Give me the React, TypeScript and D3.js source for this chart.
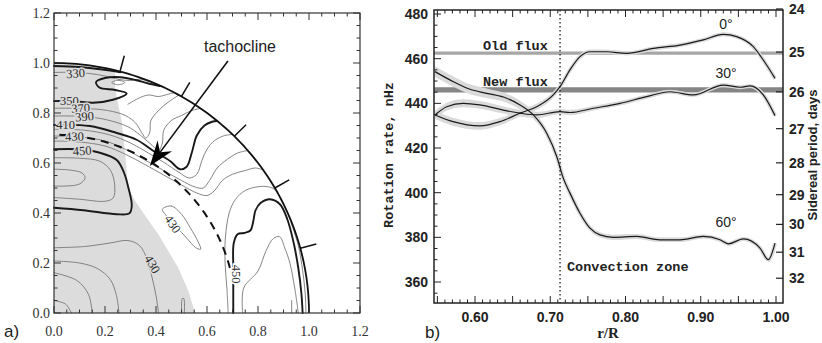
import React from "react";
import * as d3 from "d3";

type P = [number, number];

// ---------------- Panel a (meridional cut, units of solar radius) ----------------
const aTicks = [0, 0.2, 0.4, 0.6, 0.8, 1.0, 1.2];
const aTickLabels = ["0.0", "0.2", "0.4", "0.6", "0.8", "1.0", "1.2"];
const circleTickLats = [15, 30, 45, 60, 75];
const tachoRadius = 0.713;
const tachoLatEnd = 14.6;

const grayZone: P[] = [
  [0, 0], [0.553, 0], [0.527, 0.088], [0.487, 0.181], [0.448, 0.248], [0.409, 0.315],
  [0.363, 0.381], [0.318, 0.448], [0.291, 0.501], [0.278, 0.648], [0.265, 0.768],
  [0.239, 0.9], [0.239, 0.971],
];

type Contour = { level: number; closed?: boolean; pts: P[] };
const thickLevels = [350, 410, 450];

const contours: Contour[] = [
  { level: 350, pts: [[0, 0.988], [0.1, 0.984], [0.19, 0.974], [0.26, 0.963]] },
  { level: 330, pts: [[0, 0.962], [0.07, 0.963], [0.14, 0.958], [0.2, 0.948], [0.25, 0.935], [0.3, 0.93], [0.34, 0.935], [0.37, 0.926]] },
  { level: 350, pts: [[0, 0.848], [0.08, 0.847], [0.153, 0.841], [0.231, 0.853], [0.285, 0.878], [0.24, 0.892], [0.178, 0.902], [0.165, 0.924], [0.2, 0.94], [0.26, 0.943], [0.32, 0.932], [0.37, 0.918], [0.415, 0.908]] },
  { level: 340, closed: true, pts: [[0.226, 0.922], [0.252, 0.931], [0.278, 0.922], [0.252, 0.913]] },
  { level: 360, pts: [[0.29, 0.835], [0.33, 0.858], [0.37, 0.872], [0.41, 0.866], [0.45, 0.876], [0.47, 0.881]] },
  { level: 370, pts: [[0, 0.819], [0.12, 0.818], [0.21, 0.81], [0.28, 0.79], [0.32, 0.76], [0.345, 0.72], [0.36, 0.7], [0.375, 0.72], [0.38, 0.77], [0.41, 0.81], [0.45, 0.845], [0.49, 0.872]] },
  { level: 390, pts: [[0, 0.788], [0.12, 0.786], [0.21, 0.772], [0.29, 0.745], [0.34, 0.71], [0.38, 0.675], [0.41, 0.65], [0.425, 0.68], [0.43, 0.73], [0.46, 0.77], [0.5, 0.79], [0.54, 0.81], [0.575, 0.818]] },
  { level: 410, pts: [[0, 0.752], [0.141, 0.748], [0.246, 0.72], [0.324, 0.693], [0.39, 0.648], [0.455, 0.608], [0.494, 0.575], [0.52, 0.585], [0.54, 0.64], [0.56, 0.71], [0.59, 0.75], [0.62, 0.765], [0.64, 0.768]] },
  { level: 420, pts: [[0, 0.735], [0.12, 0.731], [0.22, 0.712], [0.3, 0.68], [0.37, 0.64], [0.43, 0.603], [0.49, 0.563], [0.53, 0.54], [0.56, 0.555], [0.58, 0.61], [0.6, 0.655], [0.63, 0.69], [0.67, 0.71], [0.7, 0.714]] },
  { level: 430, pts: [[0, 0.708], [0.1, 0.704], [0.2, 0.688], [0.28, 0.655], [0.36, 0.61], [0.43, 0.57], [0.5, 0.53], [0.55, 0.505], [0.585, 0.5], [0.61, 0.53], [0.64, 0.58], [0.68, 0.615], [0.72, 0.64], [0.76, 0.65]] },
  { level: 440, pts: [[0, 0.688], [0.1, 0.684], [0.2, 0.668], [0.28, 0.635], [0.36, 0.592], [0.43, 0.552], [0.5, 0.512], [0.56, 0.48], [0.6, 0.47], [0.63, 0.49], [0.66, 0.53], [0.7, 0.555], [0.75, 0.57], [0.79, 0.58], [0.82, 0.572]] },
  { level: 450, pts: [[0, 0.655], [0.11, 0.654], [0.18, 0.641], [0.246, 0.612], [0.275, 0.56], [0.292, 0.5], [0.305, 0.43], [0.296, 0.399], [0.246, 0.395], [0.115, 0.411], [0, 0.421]] },
  { level: 460, pts: [[0, 0.621], [0.1, 0.619], [0.18, 0.607], [0.222, 0.57], [0.238, 0.51], [0.232, 0.46], [0.2, 0.447], [0.1, 0.455], [0, 0.462]] },
  { level: 470, pts: [[0, 0.575], [0.06, 0.572], [0.11, 0.56], [0.122, 0.54], [0.1, 0.516], [0.05, 0.508], [0, 0.508]] },
  { level: 430, pts: [[0, 0.261], [0.12, 0.266], [0.22, 0.28], [0.29, 0.29], [0.335, 0.27], [0.365, 0.215], [0.385, 0.14], [0.4, 0.07], [0.41, 0]] },
  { level: 425, pts: [[0, 0.208], [0.1, 0.2], [0.17, 0.178], [0.22, 0.135], [0.245, 0.07], [0.255, 0]] },
  { level: 420, pts: [[0, 0.161], [0.09, 0.13], [0.135, 0.075], [0.15, 0]] },
  { level: 415, pts: [[0, 0.05], [0.045, 0.036], [0.068, 0]] },
  { level: 430, closed: true, pts: [[0.425, 0.415], [0.46, 0.428], [0.5, 0.395], [0.535, 0.34], [0.565, 0.285], [0.575, 0.255], [0.555, 0.262], [0.52, 0.3], [0.48, 0.345], [0.44, 0.39]] },
  { level: 430, pts: [[0.501, 0], [0.503, 0.058], [0.509, 0.058], [0.511, 0]] },
  { level: 445, pts: [[0.683, 0], [0.678, 0.1], [0.671, 0.2], [0.672, 0.3], [0.687, 0.4], [0.712, 0.455], [0.75, 0.49], [0.8, 0.505], [0.84, 0.505], [0.87, 0.493]] },
  { level: 450, pts: [[0.703, 0], [0.703, 0.1], [0.703, 0.181], [0.705, 0.28], [0.72, 0.315], [0.745, 0.32], [0.77, 0.33], [0.782, 0.37], [0.79, 0.41], [0.81, 0.44], [0.847, 0.455], [0.886, 0.435], [0.915, 0.375], [0.94, 0.28], [0.958, 0.18], [0.97, 0.08], [0.975, 0]] },
  { level: 455, pts: [[0.74, 0], [0.744, 0.1], [0.8, 0.168], [0.832, 0.25], [0.86, 0.298], [0.885, 0.305], [0.905, 0.26], [0.925, 0.2], [0.944, 0.1], [0.958, 0]] },
  { level: 445, pts: [[0.93, 0.36], [0.958, 0.27], [0.975, 0.17], [0.985, 0.08], [0.988, 0]] },
  { level: 455, pts: [[0.932, 0], [0.932, 0.05]] },
];

const contourLabels = [
  { text: "330", x: 0.085, y: 0.958, angle: -4 },
  { text: "350", x: 0.06, y: 0.848, angle: 0 },
  { text: "370", x: 0.105, y: 0.818, angle: -3 },
  { text: "390", x: 0.12, y: 0.785, angle: -5 },
  { text: "410", x: 0.046, y: 0.752, angle: 0 },
  { text: "430", x: 0.08, y: 0.705, angle: -2 },
  { text: "450", x: 0.11, y: 0.648, angle: -3 },
  { text: "430", x: 0.465, y: 0.355, angle: 55 },
  { text: "430", x: 0.385, y: 0.195, angle: 60 },
  { text: "450", x: 0.712, y: 0.155, angle: 90 },
];

const arrowStart: P = [0.682, 1.008];
const arrowTip: P = [0.376, 0.588];

// ---------------- Panel b (rotation rate profiles) ----------------
const rTickLabels = [0.6, 0.7, 0.8, 0.9, 1.0];
const rateTickLabels = [360, 380, 400, 420, 440, 460, 480];
const periodTickLabels = [24, 25, 26, 27, 28, 29, 30, 31, 32];
const oldFlux = 462.5;
const newFlux = 446.0;
const convectionBase = 0.713;

const r0 = [0.5468, 0.5708, 0.6066, 0.6332, 0.6598, 0.682, 0.704, 0.713, 0.7262, 0.7395, 0.7528, 0.775, 0.8016, 0.837, 0.8724, 0.9034, 0.93, 0.9478, 0.9698, 0.9831, 0.9987];
const rate0 = [434.8, 431.8, 429.9, 431.8, 435.6, 438.5, 443.8, 447.5, 455, 460.9, 463.1, 463.1, 462.4, 464.6, 466.1, 468.4, 470.9, 469.9, 465.4, 459.4, 451.2];
const err0 = [1.8, 1.8, 1.7, 1.6, 1.5, 1.4, 1.3, 1.2, 1.1, 1.0, 1.0, 0.9, 0.9, 0.8, 0.8, 0.7, 0.7, 0.6, 0.6, 0.5, 0.5];

const r30 = [0.5468, 0.5624, 0.5845, 0.6066, 0.6376, 0.6598, 0.682, 0.713, 0.7262, 0.7572, 0.7927, 0.8282, 0.8591, 0.8901, 0.93, 0.9522, 0.9654, 0.9831, 0.9987];
const rate30 = [434.8, 438.5, 440, 439.3, 437, 435.6, 434.8, 436.3, 435.9, 437.8, 440, 443, 445.2, 443.8, 448.2, 447.2, 447.8, 443.8, 434.5];
const err30 = [1.8, 1.8, 1.8, 1.7, 1.6, 1.5, 1.4, 1.2, 1.2, 1.0, 1.0, 0.9, 0.8, 0.8, 0.7, 0.6, 0.6, 0.5, 0.5];

const r60 = [0.5468, 0.5712, 0.5934, 0.6155, 0.6421, 0.6598, 0.6775, 0.6953, 0.7086, 0.7173, 0.7262, 0.7395, 0.7528, 0.7661, 0.7838, 0.8149, 0.8458, 0.8724, 0.9034, 0.9256, 0.9366, 0.9566, 0.9787, 0.9898, 0.9987];
const rate60 = [454.2, 449.7, 446.3, 444.5, 442.3, 439.3, 434.8, 426.6, 416.2, 406.5, 399.8, 390.8, 384.1, 381.1, 380, 380.4, 378.9, 378.9, 380.4, 378.9, 377.1, 379.3, 375.2, 370, 377.4];
const err60 = [2.4, 2.3, 2.2, 2.1, 2.0, 1.9, 1.7, 1.5, 1.4, 1.3, 1.2, 1.2, 1.2, 1.2, 1.2, 1.1, 1.0, 1.0, 0.9, 0.8, 0.7, 0.6, 0.5, 0.5, 0.5];

const latLabels = [
  { text: "0°", r: 0.9335, rate: 473.5 },
  { text: "30°", r: 0.9335, rate: 451.2 },
  { text: "60°", r: 0.9335, rate: 384.5 },
];

const SERIF = "'Liberation Serif', 'DejaVu Serif', serif";
const SANS = "'Liberation Sans', Arial, sans-serif";
const MONO = "'Liberation Mono', 'DejaVu Sans Mono', monospace";

export default function App() {
  // ---- panel a scales
  const xA = d3.scaleLinear().domain([0, 1.2]).range([54, 360]);
  const yA = d3.scaleLinear().domain([0, 1.2]).range([313, 13]);
  const linA = d3.line<P>().x((d) => xA(d[0])).y((d) => yA(d[1]));
  const smoothA = d3.line<P>().x((d) => xA(d[0])).y((d) => yA(d[1])).curve(d3.curveCatmullRom.alpha(0.5));
  const closedA = d3.line<P>().x((d) => xA(d[0])).y((d) => yA(d[1])).curve(d3.curveCatmullRomClosed.alpha(0.5));

  const deg = Math.PI / 180;
  const arc = (r: number, a0: number, a1: number): P[] =>
    d3.range(a0, a1 + 1e-9, (a1 - a0) / 90).map((a) => [r * Math.cos(a * deg), r * Math.sin(a * deg)] as P);
  const circlePts = arc(1, 0, 90);
  const grayLat = Math.acos(grayZone[grayZone.length - 1][0]) / deg;
  const grayPoly: P[] = [...grayZone, ...arc(1, grayLat, 90).slice(1)];
  const tachoPts = arc(tachoRadius, tachoLatEnd, 90);

  const minorA = d3.range(0, 1.2001, 0.05);
  const isMajorA = (v: number) => Math.abs(v / 0.2 - Math.round(v / 0.2)) < 1e-6;

  const S = [xA(arrowStart[0]), yA(arrowStart[1])];
  const T = [xA(arrowTip[0]), yA(arrowTip[1])];
  const len = Math.hypot(T[0] - S[0], T[1] - S[1]);
  const u = [(T[0] - S[0]) / len, (T[1] - S[1]) / len];
  const n = [-u[1], u[0]];
  const hl = 25, hw = 9, notch = 17;
  const head = [
    [T[0], T[1]],
    [T[0] - hl * u[0] + hw * n[0], T[1] - hl * u[1] + hw * n[1]],
    [T[0] - notch * u[0], T[1] - notch * u[1]],
    [T[0] - hl * u[0] - hw * n[0], T[1] - hl * u[1] - hw * n[1]],
  ];

  // ---- panel b scales
  const xB = d3.scaleLinear().domain([0.5455, 1.0093]).range([434, 783]);
  const yB = d3.scaleLinear().domain([350.6, 481.8]).range([303, 10]);
  const [bx0, bx1] = xB.range();
  const [by1, by0] = yB.range();
  const periodToRate = (d: number) => 1e9 / (d * 86400);

  const series = [
    { r: r0, v: rate0, e: err0 },
    { r: r30, v: rate30, e: err30 },
    { r: r60, v: rate60, e: err60 },
  ];
  const lineB = d3.line<number>().curve(d3.curveMonotoneX);
  const areaB = d3.area<number>().curve(d3.curveMonotoneX);

  const xMinorB = d3.range(0.55, 1.0001, 0.01);
  const isMajorB = (v: number) => Math.abs(v / 0.05 - Math.round(v / 0.05)) < 1e-6;
  const yMinorB = d3.range(355, 481, 5);

  return (
    <svg width={822} height={343} style={{ position: "absolute", left: 0, top: 0, background: "#fff" }}>
      {/* ================= Panel a ================= */}
      <path d={linA(grayPoly) + "Z"} fill="#dcdcdc" stroke="none" />
      <g fill="none" strokeLinejoin="round" strokeLinecap="round">
        {contours.map((c, i) => {
          const thick = thickLevels.includes(c.level);
          return (
            <path
              key={i}
              d={(c.closed ? closedA(c.pts) : smoothA(c.pts)) || ""}
              stroke={thick ? "#1a1a1a" : "#777"}
              strokeWidth={thick ? 1.9 : 0.9}
            />
          );
        })}
      </g>
      <path d={linA(tachoPts) || ""} fill="none" stroke="#111" strokeWidth={2} strokeDasharray="8,6" />
      <path d={linA(circlePts) || ""} fill="none" stroke="#111" strokeWidth={1.8} />
      {circleTickLats.map((lat) => (
        <path key={lat} d={linA([[Math.cos(lat * deg), Math.sin(lat * deg)], [1.065 * Math.cos(lat * deg), 1.065 * Math.sin(lat * deg)]]) || ""} stroke="#111" strokeWidth={1.5} />
      ))}
      {contourLabels.map((l, i) => {
        const inGray = d3.polygonContains(grayPoly, [l.x, l.y]);
        return (
          <text
            key={i}
            x={xA(l.x)}
            y={yA(l.y)}
            transform={`rotate(${l.angle} ${xA(l.x)} ${yA(l.y)})`}
            textAnchor="middle"
            dominantBaseline="central"
            fontFamily={SERIF}
            fontSize={12.5}
            fill="#2a2a2a"
            stroke={inGray ? "#dcdcdc" : "#fff"}
            strokeWidth={3}
            paintOrder="stroke"
          >
            {l.text}
          </text>
        );
      })}
      {/* arrow */}
      <line x1={S[0]} y1={S[1]} x2={T[0] - notch * u[0]} y2={T[1] - notch * u[1]} stroke="#111" strokeWidth={1.6} />
      <polygon points={head.map((p) => p.join(",")).join(" ")} fill="#000" />
      <text x={240} y={52} textAnchor="middle" fontFamily={SANS} fontSize={16} fill="#222">tachocline</text>

      {/* frame a */}
      <rect x={xA(0)} y={yA(1.2)} width={xA(1.2) - xA(0)} height={yA(0) - yA(1.2)} fill="none" stroke="#333" strokeWidth={1.2} />
      {minorA.map((v, i) => {
        const L = isMajorA(v) ? 7 : 3.5;
        return (
          <g key={i} stroke="#333" strokeWidth={1}>
            <line x1={xA(v)} x2={xA(v)} y1={yA(0)} y2={yA(0) - L} />
            <line x1={xA(v)} x2={xA(v)} y1={yA(1.2)} y2={yA(1.2) + L} />
            <line y1={yA(v)} y2={yA(v)} x1={xA(0)} x2={xA(0) + L} />
            <line y1={yA(v)} y2={yA(v)} x1={xA(1.2)} x2={xA(1.2) - L} />
          </g>
        );
      })}
      {aTicks.map((v, i) => (
        <g key={i} fontFamily={SERIF} fontSize={14} fill="#333">
          <text x={xA(v)} y={336} textAnchor="middle">{aTickLabels[i]}</text>
          <text x={xA(0) - 4} y={yA(v) + 4.5} textAnchor="end">{aTickLabels[i]}</text>
        </g>
      ))}
      <text x={4} y={337} fontFamily={SANS} fontSize={17} fill="#222">a)</text>

      {/* ================= Panel b ================= */}
      <defs>
        <clipPath id="clipB">
          <rect x={bx0} y={by0} width={bx1 - bx0} height={by1 - by0} />
        </clipPath>
      </defs>
      <g clipPath="url(#clipB)">
        <line x1={bx0} x2={bx1} y1={yB(oldFlux)} y2={yB(oldFlux)} stroke="#a6a6a6" strokeWidth={3.3} />
        <line x1={bx0} x2={bx1} y1={yB(newFlux)} y2={yB(newFlux)} stroke="#858585" strokeWidth={5.3} />
        {series.map((s, k) => (
          <g key={"h" + k}>
            <path
              d={areaB.x((_, i) => xB(s.r[i])).y0((d, i) => yB(d - s.e[i])).y1((d, i) => yB(d + s.e[i]))(s.v) || ""}
              fill="#dadada"
            />
            <path d={lineB.x((_, i) => xB(s.r[i])).y((d) => yB(d))(s.v) || ""} fill="none" stroke="#dadada" strokeWidth={4} />
          </g>
        ))}
        {series.map((s, k) => (
          <path key={"l" + k} d={lineB.x((_, i) => xB(s.r[i])).y((d) => yB(d))(s.v) || ""} fill="none" stroke="#1a1a1a" strokeWidth={1.2} />
        ))}
        <line x1={xB(convectionBase)} x2={xB(convectionBase)} y1={by0} y2={by1} stroke="#111" strokeWidth={1.2} strokeDasharray="1.5,2.5" />
      </g>
      <rect x={bx0} y={by0} width={bx1 - bx0} height={by1 - by0} fill="none" stroke="#222" strokeWidth={1.5} />
      {xMinorB.map((v, i) => {
        const L = isMajorB(v) ? 7 : 3.5;
        return (
          <g key={i} stroke="#222" strokeWidth={1}>
            <line x1={xB(v)} x2={xB(v)} y1={by1} y2={by1 - L} />
            <line x1={xB(v)} x2={xB(v)} y1={by0} y2={by0 + L} />
          </g>
        );
      })}
      {yMinorB.map((v, i) => {
        const L = v % 20 === 0 ? 7 : 3.5;
        return <line key={i} x1={bx0} x2={bx0 + L} y1={yB(v)} y2={yB(v)} stroke="#222" strokeWidth={1} />;
      })}
      {periodTickLabels.map((d) => (
        <line key={d} x1={bx1} x2={bx1 - 7} y1={yB(periodToRate(d))} y2={yB(periodToRate(d))} stroke="#222" strokeWidth={1.2} />
      ))}
      <g fontFamily={SANS} fontWeight="bold" fontSize={14} fill="#222">
        {rTickLabels.map((v) => (
          <text key={v} x={xB(v)} y={322} textAnchor="middle">{v.toFixed(2)}</text>
        ))}
        {rateTickLabels.map((v) => (
          <text key={v} x={bx0 - 6} y={yB(v) + 5} textAnchor="end">{v}</text>
        ))}
        {periodTickLabels.map((d) => (
          <text key={d} x={bx1 + 6} y={yB(periodToRate(d)) + 5} textAnchor="start">{d}</text>
        ))}
      </g>
      <g fontFamily={MONO} fontWeight="bold" fontSize={13.5} fill="#222">
        <text x={483} y={50}>Old flux</text>
        <text x={483} y={86}>New flux</text>
        <text x={567} y={271}>Convection zone</text>
        <text transform="translate(393,155) rotate(-90)" textAnchor="middle">Rotation rate, nHz</text>
      </g>
      <text x={608} y={338} textAnchor="middle" fontFamily={SERIF} fontWeight="bold" fontSize={15} fill="#222">r/R</text>
      <text transform="translate(817,155) rotate(-90)" textAnchor="middle" fontFamily={SANS} fontWeight="bold" fontSize={13} fill="#222">Sidereal period, days</text>
      {latLabels.map((l) => (
        <text key={l.text} x={xB(l.r)} y={yB(l.rate)} textAnchor="middle" fontFamily={SANS} fontSize={14} fill="#222">{l.text}</text>
      ))}
      <text x={425} y={338} fontFamily={SANS} fontSize={17} fill="#222">b)</text>
    </svg>
  );
}
